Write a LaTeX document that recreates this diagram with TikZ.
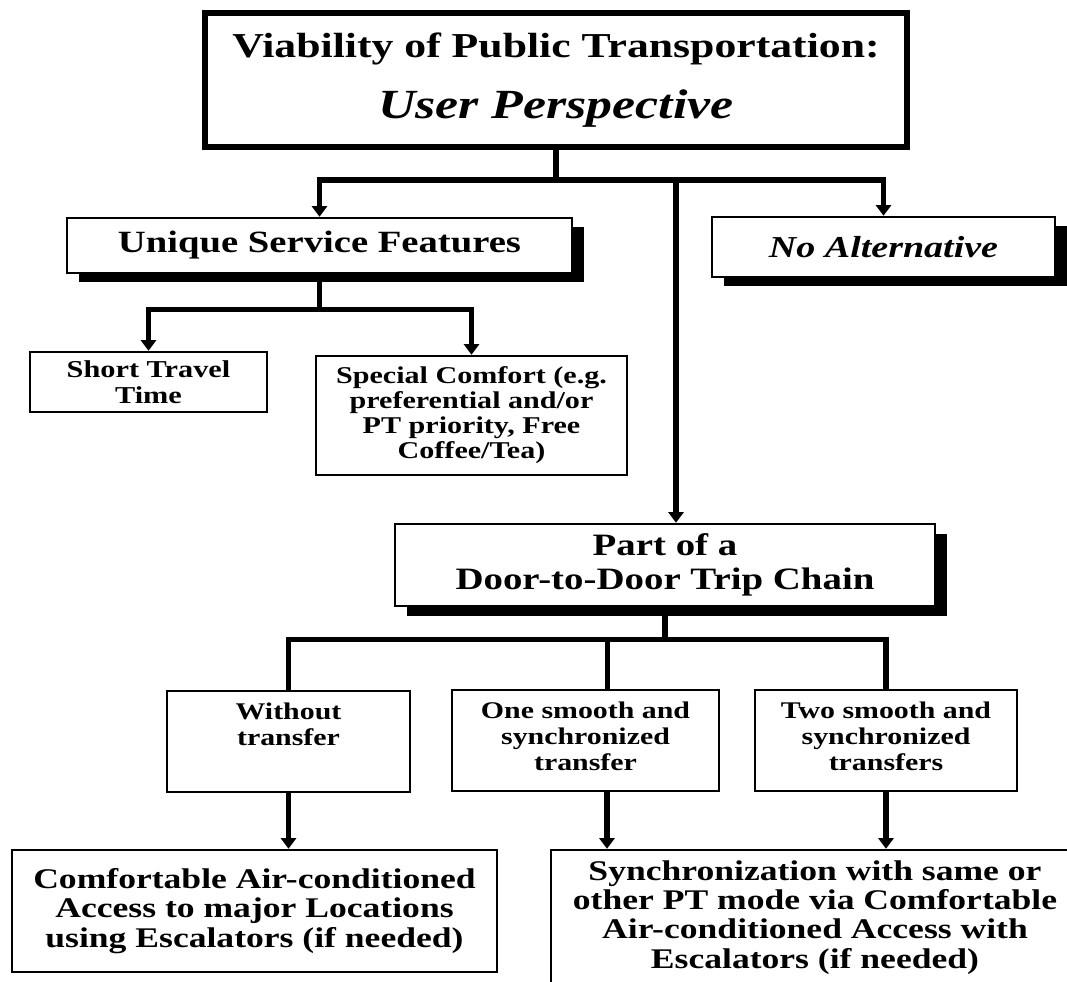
\documentclass[tikz,border=0pt]{standalone}
\usepackage{fontspec}
\setmainfont{Liberation Serif}[FakeStretch=1.25]
\usetikzlibrary{arrows.meta,calc,shadows}

\begin{document}
\begin{tikzpicture}[line join=miter,
    box/.style={draw,line width=1.4pt,fill=white,align=center,inner sep=0pt},
    shadowbox/.style={box,drop shadow={shadow xshift=0.24cm,shadow yshift=-0.19cm,opacity=1,fill=black}},
    link/.style={line width=3pt},
    linkarrow/.style={link,-{Triangle[width=8.5pt,length=6pt]}}]
  \useasboundingbox[fill=white] (0,0) rectangle (21.34,-19.64);

  % Top level.
  \node[box,line width=3.6pt,minimum width=14.04cm,minimum height=2.68cm,
        font=\fontsize{19.9}{35}\selectfont\bfseries] (title) at (11.12,-1.6)
    {Viability of Public Transportation:\\{\fontsize{23.6}{35}\selectfont\itshape User Perspective}};
  \coordinate (topbar) at (0,-3.6);

  \node[shadowbox,minimum width=10.1cm,minimum height=1.1cm,
        font=\fontsize{17.6}{20}\selectfont\bfseries] (unique) at (6.39,-4.91)
    {Unique Service Features};
  \node[shadowbox,minimum width=6.86cm,minimum height=1.2cm,
        font=\fontsize{17.3}{20}\selectfont\bfseries\itshape] (noalt) at (17.67,-4.94)
    {No Alternative};

  % Service features.
  \coordinate (midbar) at (0,-6.19);
  \node[box,minimum width=4.74cm,minimum height=1.2cm,
        font=\fontsize{13.8}{14.7}\selectfont\bfseries] (short) at (2.97,-7.64)
    {Short Travel\\Time};
  \node[box,minimum width=6.22cm,minimum height=2.38cm,
        font=\fontsize{13.7}{14.2}\selectfont\bfseries] (special) at (9.43,-8.31)
    {Special Comfort (e.g.\\preferential and/or\\PT priority, Free\\Coffee/Tea)};

  % Trip chain.
  \node[shadowbox,minimum width=10.8cm,minimum height=1.64cm,
        font=\fontsize{17.7}{19}\selectfont\bfseries] (door) at (13.3,-11.3)
    {Part of a\\Door-to-Door Trip Chain};
  \coordinate (doorin) at ($(door.north)+(0.22,0)$);
  \coordinate (lowbar) at (0,-12.79);

  \node[box,minimum width=4.86cm,font=\fontsize{13.6}{15}\selectfont\bfseries] (without) at (5.77,-14.83)
    {\parbox[c][2.02cm][t]{4.6cm}{\centering\rule{0pt}{0.56cm}Without\\transfer}};
  \node[box,minimum width=5.34cm,font=\fontsize{13.6}{15}\selectfont\bfseries] (one) at (11.71,-14.81)
    {\parbox[c][2.02cm][t]{5.1cm}{\centering\rule{0pt}{0.56cm}One smooth and\\synchronized\\transfer}};
  \node[box,minimum width=5.24cm,font=\fontsize{13.6}{15}\selectfont\bfseries] (two) at (17.72,-14.81)
    {\parbox[c][2.02cm][t]{5cm}{\centering\rule{0pt}{0.56cm}Two smooth and\\synchronized\\transfers}};
  \coordinate (onein) at ($(one.north)+(0.44,0)$);
  \coordinate (oneout) at ($(one.south)+(0.43,0)$);

  % Access.
  \node[box,minimum width=9.7cm,minimum height=2.44cm,
        font=\fontsize{16.2}{16.6}\selectfont\bfseries] (comfy) at (5.09,-18.22)
    {Comfortable Air-conditioned\\Access to major Locations\\using Escalators (if needed)};
  \node[box,minimum width=10.56cm,minimum height=2.7cm,
        font=\fontsize{16.2}{16.6}\selectfont\bfseries] (sync) at (16.3,-18.35)
    {Synchronization with same or\\other PT mode via Comfortable\\Air-conditioned Access with\\Escalators (if needed)};

  % Connectors.
  \draw[linkarrow] (title.south) |- (unique.north |- topbar) -- (unique.north);
  \draw[linkarrow] (title.south) |- (noalt.north |- topbar) -- (noalt.north);
  \draw[linkarrow] (doorin |- topbar) -- (doorin);
  \draw[linkarrow] (unique.south) |- (short.north |- midbar) -- (short.north);
  \draw[linkarrow] (unique.south) |- (special.north |- midbar) -- (special.north);
  \draw[link] (door.south) |- (without.north |- lowbar) -- (without.north);
  \draw[link] (door.south) |- (two.north |- lowbar) -- (two.north);
  \draw[link] (onein |- lowbar) -- (onein);
  \draw[linkarrow] (without.south) -- (without.south |- comfy.north);
  \draw[linkarrow] (oneout) -- (oneout |- sync.north);
  \draw[linkarrow] (two.south) -- (two.south |- sync.north);
\end{tikzpicture}
\end{document}
